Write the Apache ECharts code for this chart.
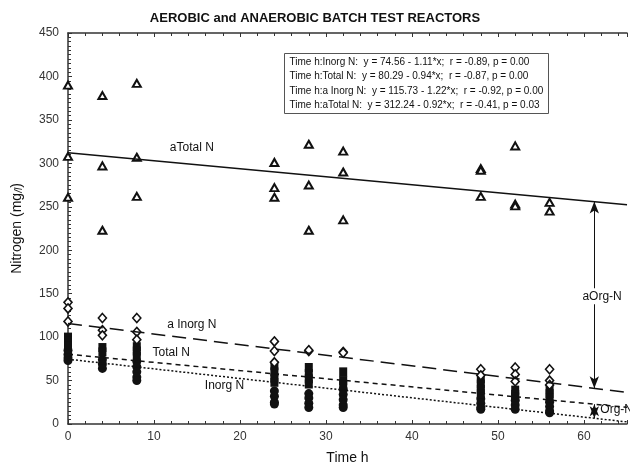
<!DOCTYPE html>
<html><head><meta charset="utf-8">
<script src="https://cdn.jsdelivr.net/npm/echarts@6/dist/echarts.min.js"></script>
<style>html,body{margin:0;padding:0;background:#fff}#c{width:630px;height:470px}</style>
</head><body><div id="c"></div>
<script>
// Data: [time h, nitrogen mg/l]
const inorgN = [[0,85],[0,80],[0,76],[0,73],[4,74],[4,69],[4,64],[8,72],[8,66],[8,60],[8,54],[8,50],
  [24,38],[24,32],[24,25],[24,23],[28,35],[28,30],[28,24],[28,19],[32,40],[32,34],[32,28],[32,22],[32,19],
  [48,29],[48,24],[48,19],[48,17],[52,27],[52,22],[52,17],[56,25],[56,20],[56,15],[56,13]];
const totalN = [[0,100],[0,95],[0,90],[4,88],[4,83],[8,89],[8,84],[8,78],
  [24,67],[24,60],[24,53],[24,48],[28,65],[28,58],[28,52],[28,46],[32,60],[32,50],[32,45],
  [48,52],[48,46],[48,40],[48,35],[52,39],[52,34],[52,31],[56,40],[56,35],[56,30]];
const aInorgN = [[0,140],[0,133],[0,118],[4,122],[4,108],[4,102],[8,122],[8,106],[8,97],
  [24,95],[24,84],[24,71],[28,84],[28,85],[32,83],[32,82],[48,63],[48,56],[52,65],[52,57],[52,49],[56,63],[56,50],[56,45]];
const aTotalN = [[0,390],[0,308],[0,261],[4,378],[4,297],[4,223],[8,392],[8,307],[8,262],
  [24,301],[24,272],[24,261],[28,322],[28,275],[28,223],[32,314],[32,290],[32,235],
  [48,294],[48,292],[48,262],[52,320],[52,253],[52,251],[56,255],[56,245]];
// Regression coefficients [intercept, slope] from the legend
const fitInorg = [74.56, -1.11];
const fitTotal = [80.29, -0.94];
const fitAInorg = [115.73, -1.22];
const fitATotal = [312.24, -0.92];
const legendLines = [
  'Time h:Inorg N:  y = 74.56 - 1.11*x;  r = -0.89, p = 0.00',
  'Time h:Total N:  y = 80.29 - 0.94*x;  r = -0.87, p = 0.00',
  'Time h:a Inorg N:  y = 115.73 - 1.22*x;  r = -0.92, p = 0.00',
  'Time h:aTotal N:  y = 312.24 - 0.92*x;  r = -0.41, p = 0.03'
];
const xTicks = [0,10,20,30,40,50,60];
const xMax = 65, arrowX = 61.2;

const F = 'Liberation Sans, Arial, sans-serif';
const fit = (c) => [[0, c[0]], [xMax, c[0] + c[1]*xMax]];
const at = (c, x) => c[0] + c[1]*x;
const lineLabel = (txt, x, y, bg) => ({
  coord:[x,y], symbolSize:0, value:txt,
  label:{show:true, formatter:txt, color:'#111', fontSize:12, fontFamily:F, position:'inside',
    backgroundColor: bg ? '#fff' : 'transparent', padding: bg ? [2,1] : 0}
});

const chart = echarts.init(document.getElementById('c'));
chart.setOption({
  animation:false,
  title:{text:'AEROBIC and ANAEROBIC BATCH TEST REACTORS', left:'center', top:7,
    textStyle:{fontSize:13, fontWeight:'bold', fontFamily:F, color:'#111'}},
  grid:{left:68, right:0, top:33, bottom:44},
  xAxis:[{type:'value', min:0, max:xMax, interval:10,
    name:'Time h', nameLocation:'middle', nameGap:27, nameTextStyle:{fontSize:14, fontFamily:F, color:'#111'},
    axisLine:{lineStyle:{color:'#333', width:1.5}},
    axisTick:{inside:true, length:4, lineStyle:{color:'#333'}},
    minorTick:{show:true, splitNumber:5, length:3, lineStyle:{color:'#333'}},
    splitLine:{show:false},
    axisLabel:{fontSize:12, fontFamily:F, color:'#333', margin:7,
      formatter:v => xTicks.indexOf(v) >= 0 ? String(v) : ''}},
   {type:'value', position:'top', min:0, max:xMax, interval:10,
    axisLine:{lineStyle:{color:'#333', width:1.5}},
    axisTick:{inside:true, length:4, lineStyle:{color:'#333'}},
    minorTick:{show:true, splitNumber:5, length:3, lineStyle:{color:'#333'}},
    axisLabel:{show:false}, splitLine:{show:false}}],
  yAxis:{type:'value', min:0, max:450, interval:50,
    name:'{a|Nitrogen (mg}{b|/l}{a|)}', nameLocation:'middle', nameGap:44,
    nameTextStyle:{rich:{a:{fontSize:14, fontFamily:F, color:'#111'}, b:{fontSize:10, fontStyle:'italic', fontFamily:F, color:'#111', verticalAlign:'bottom'}}},
    axisLine:{show:true, lineStyle:{color:'#333', width:1.5}},
    axisTick:{inside:true, length:4, lineStyle:{color:'#333'}},
    minorTick:{show:true, splitNumber:10, length:3, lineStyle:{color:'#333'}},
    splitLine:{show:false},
    axisLabel:{fontSize:12, fontFamily:F, color:'#333', margin:9}},
  series:[
    {type:'scatter', data:inorgN, symbol:'circle', symbolSize:9, itemStyle:{color:'#111', opacity:1}},
    {type:'scatter', data:totalN, symbol:'rect', symbolSize:[8,9], itemStyle:{color:'#111', opacity:1}},
    {type:'scatter', data:aInorgN, symbol:'diamond', symbolSize:[8,9],
      itemStyle:{color:'#fff', borderColor:'#111', borderWidth:1.6, opacity:1}},
    {type:'scatter', data:aTotalN, symbol:'triangle', symbolSize:[8,7],
      itemStyle:{color:'#fff', borderColor:'#111', borderWidth:2, opacity:1}},
    {type:'line', data:fit(fitATotal), symbol:'none', silent:true,
      lineStyle:{color:'#111', width:1.5},
      markLine:{silent:true, symbol:['arrow','arrow'], symbolSize:[7,12], label:{show:false},
        lineStyle:{color:'#111', width:1, type:'solid'},
        data:[[{coord:[arrowX, at(fitATotal, arrowX)]},{coord:[arrowX, at(fitAInorg, arrowX)]}],
              [{coord:[arrowX, at(fitTotal, arrowX)]},{coord:[arrowX, at(fitInorg, arrowX)]}]]}},
    {type:'line', data:fit(fitAInorg), symbol:'none', silent:true,
      lineStyle:{color:'#111', width:1.5, type:[14,7]}},
    {type:'line', data:fit(fitTotal), symbol:'none', silent:true,
      lineStyle:{color:'#111', width:1.5, type:[5,4]}},
    {type:'line', data:fit(fitInorg), symbol:'none', silent:true,
      lineStyle:{color:'#111', width:1.5, type:[2,2]}},
    {type:'scatter', data:[], silent:true, z:10,
      markPoint:{symbol:'rect', data:[lineLabel('aTotal N', 14.4, 318), lineLabel('a Inorg N', 14.4, 114.5),
        lineLabel('Total N', 12, 82), lineLabel('Inorg N', 18.2, 44.5),
        lineLabel('aOrg-N', 62.1, 147, true), lineLabel('Org-N', 63.8, 17)]}}
  ],
  graphic:[{type:'group', left:284, top:53, children:[
    {type:'rect', shape:{x:0, y:0, width:264, height:60}, style:{fill:'#fff', stroke:'#555', lineWidth:1}},
    ...legendLines.map((t,i) => ({type:'text', x:5, y:4 + i*14.2,
      style:{text:t, font:'10px ' + F, fill:'#111'}}))
  ]}]
});
</script></body></html>
